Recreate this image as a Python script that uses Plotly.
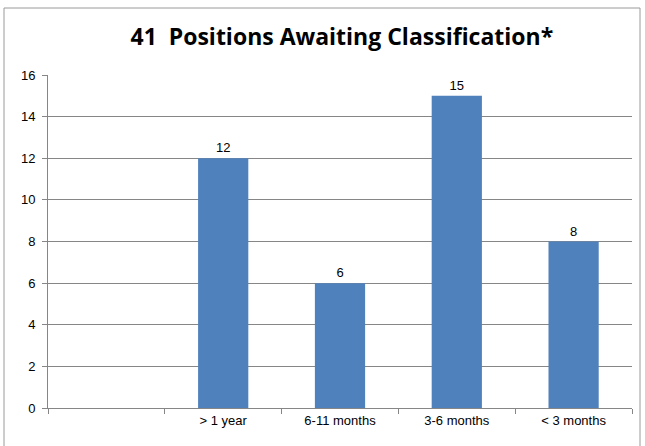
import plotly.graph_objects as go

categories = [" ", "> 1 year", "6-11 months", "3-6 months", "< 3 months"]
values = [None, 12, 6, 15, 8]
value_labels = ["", "12", "6", "15", "8"]
y_ticks = [0, 2, 4, 6, 8, 10, 12, 14, 16]
title_text = "41  Positions Awaiting Classification*"

fig = go.Figure()
fig.add_trace(go.Bar(
    x=categories, y=values, text=value_labels, textposition="outside",
    marker=dict(color="#4F81BD", line=dict(width=0)),
    width=0.43, cliponaxis=False,
    textfont=dict(family="Liberation Sans Narrow, Arial Narrow, sans-serif", size=13, color="#000000"),
))

fig.update_layout(
    width=645, height=446,
    margin=dict(l=48, r=13, t=75, b=38),
    paper_bgcolor="white", plot_bgcolor="white",
    showlegend=False,
    title=dict(text="<b>" + title_text + "</b>", x=0.53, xanchor="center",
               y=0.918, yanchor="middle",
               font=dict(family="Open Sans, sans-serif", size=23, color="#000000")),
    font=dict(family="Liberation Sans Narrow, Arial Narrow, sans-serif", size=13, color="#000000"),
    xaxis=dict(type="category", tickson="boundaries", ticks="outside", ticklen=5,
               tickcolor="#868686", showline=True, linecolor="#868686", linewidth=1,
               showgrid=False, tickfont=dict(size=13)),
    yaxis=dict(range=[0, 16], tickvals=y_ticks, ticks="outside", ticklen=5,
               tickcolor="#868686", showline=True, linecolor="#868686", linewidth=1,
               showgrid=True, gridcolor="#868686", gridwidth=1, zeroline=False,
               tickfont=dict(size=13), ticklabelstandoff=4),
    shapes=[dict(type="rect", xref="paper", yref="paper",
                 x0=(4 - 48) / 584, x1=(640 - 48) / 584,
                 y0=(408 - 460) / 333, y1=(408 - 8) / 333,
                 line=dict(color="#9a9a9a", width=1), fillcolor="rgba(0,0,0,0)",
                 layer="below")],
)

fig.write_html("out.html", config={"displayModeBar": False},
               post_script="document.body.style.margin='0';document.body.style.overflow='hidden';")
